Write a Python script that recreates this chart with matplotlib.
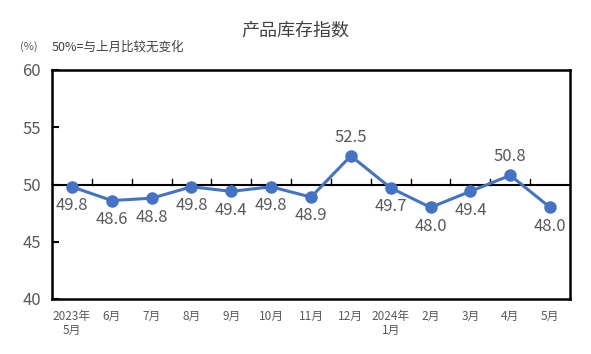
import matplotlib
matplotlib.use('Agg')
import matplotlib.pyplot as plt

plt.rcParams['font.family'] = ['Noto Sans CJK SC', 'DejaVu Sans']

months = ['2023年\n5月', '6月', '7月', '8月', '9月', '10月', '11月', '12月',
          '2024年\n1月', '2月', '3月', '4月', '5月']
values = [49.8, 48.6, 48.8, 49.8, 49.4, 49.8, 48.9, 52.5, 49.7, 48.0, 49.4, 50.8, 48.0]
above = [False, False, False, False, False, False, False, True, False, False, False, True, False]

blue = '#4472C4'
grey = '#595959'

fig = plt.figure(figsize=(5.91, 3.54), dpi=100)
ax = fig.add_axes([52/591, 1 - 299/354, 518/591, 229/354])

x = list(range(len(values)))
ax.plot(x, values, color=blue, lw=2.2, marker='o', ms=8, zorder=3)
ax.axhline(50, color='black', lw=1.5, zorder=2)

# small ticks on the 50 line between categories
for b in range(1, len(values)):
    ax.plot([b - 0.5, b - 0.5], [50, 50.5], color='black', lw=1, zorder=2)

for xi, v, up in zip(x, values, above):
    if up:
        ax.text(xi, v + 0.9, f'{v:.1f}', ha='center', va='bottom', fontsize=12, color=grey)
    else:
        ax.text(xi, v - 0.9, f'{v:.1f}', ha='center', va='top', fontsize=12, color=grey)

ax.set_xlim(-0.5, len(values) - 0.5)
ax.set_ylim(40, 60)
ax.set_yticks([40, 45, 50, 55, 60])
ax.tick_params(axis='y', direction='in', length=5, width=1.5, labelsize=12,
               labelcolor=grey, pad=8)
ax.set_xticks(x)
ax.set_xticklabels(months, fontsize=8.5, color=grey, va='top', linespacing=1.1)
ax.tick_params(axis='x', length=0, pad=8)
for s in ax.spines.values():
    s.set_linewidth(1.8)
    s.set_color('black')

fig.text(0.5, 1 - 30/354, '产品库存指数', ha='center', va='center', fontsize=13,
         color='#404040')
fig.text(20/591, 1 - 47/354, '(%)', ha='left', va='center', fontsize=8, color=grey)
fig.text(52/591, 1 - 47/354, '50%=与上月比较无变化', ha='left', va='center',
         fontsize=9, color='#404040')

fig.savefig('out.png', dpi=100)
